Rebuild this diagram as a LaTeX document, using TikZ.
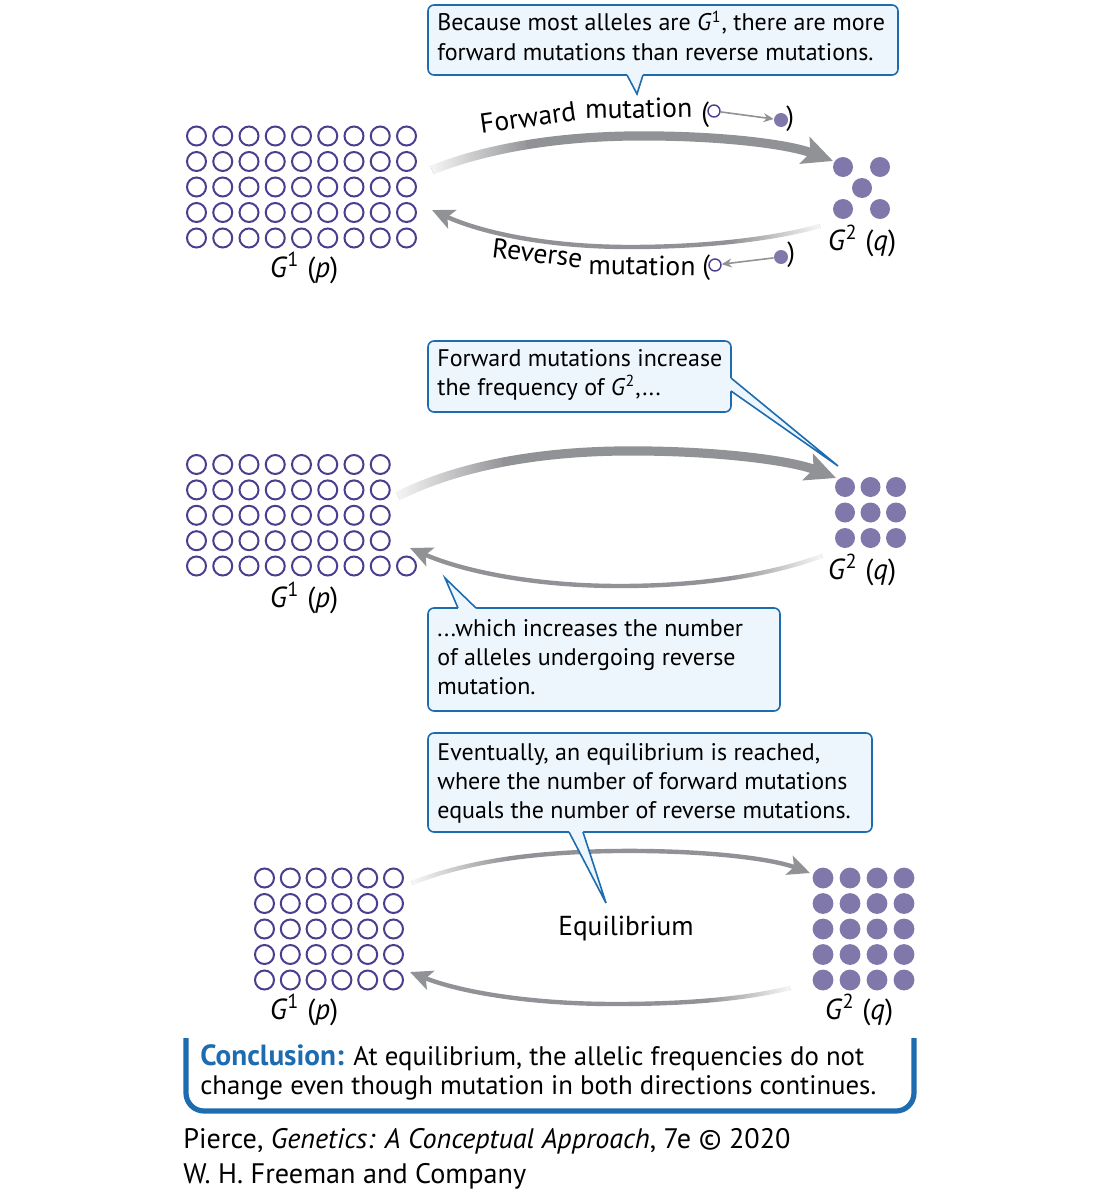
\documentclass[tikz,border=0pt]{standalone}
\usepackage{fontspec}
\setmainfont{PT Sans}
\usetikzlibrary{arrows.meta,fadings}
\definecolor{cpurple}{RGB}{74,62,143}
\definecolor{cdot}{RGB}{128,119,170}
\definecolor{cgray}{RGB}{145,146,149}
\definecolor{cblue}{RGB}{30,108,176}
\definecolor{cfill}{RGB}{238,246,253}
\tikzfading[name=fadeleftin, left color=transparent!5, right color=transparent!100]
\tikzfading[name=faderightin, left color=transparent!100, right color=transparent!5]
\begin{document}
\begin{tikzpicture}[x=0.5pt,y=-0.5pt,
  open/.style={draw=cpurple, line width=1pt},
  full/.style={fill=cdot},
  callout/.style={draw=cblue, fill=cfill, line width=0.8pt, rounded corners=3pt},
  ptr/.style={draw=cblue, line width=0.8pt},
  ctext/.style={anchor=base west, inner sep=0pt, font=\fontsize{12}{14.5}\selectfont},
  lbl/.style={anchor=base, inner sep=0pt, font=\fontsize{14.5}{17}\selectfont},
  mlbl/.style={anchor=base west, inner sep=0pt, font=\fontsize{13.8}{16}\selectfont},
  thickarrow/.style={draw=cgray, line width=4.6pt, -{Stealth[length=15pt,width=14pt,inset=3pt]}},
  thinarrow/.style={draw=cgray, line width=2.2pt, -{Stealth[length=11pt,width=10pt,inset=2.5pt]}},
  fadeL/.style={draw=white, line width=#1, path fading=fadeleftin},
  fadeR/.style={draw=white, line width=#1, path fading=faderightin},
  smallo/.style={circle, draw=cpurple, line width=0.7pt, minimum size=6pt, inner sep=0pt},
  smalld/.style={circle, fill=cdot, minimum size=7pt, inner sep=0pt},
  smallarrow/.style={draw=cgray, line width=0.8pt, -{Stealth[length=5pt,width=4.5pt]}}
]
\path[use as bounding box] (0,0) rectangle (1100,1194);

% ---------------- Panel 1 ----------------
\foreach \i in {0,...,8} \foreach \j in {0,...,4}
  \draw[open] ({196.5+26.25*\i},{136+25.5*\j}) circle[radius=4.75pt];
\foreach \p in {(843,167),(880,167),(862,188),(843,209),(880,209)}
  \fill[full] \p circle[radius=5pt];
\node[lbl] (g1a) at (304,277) {\textit{G}\textsuperscript{1} (\textit{p})};
\node[lbl] (g2a) at (862,250) {\textit{G}\textsuperscript{2} (\textit{q})};

\coordinate (f1s) at (432,170); \coordinate (f1m) at (630,136); \coordinate (f1e) at (833,161);
\draw[thickarrow] (f1s) .. controls (490,147) and (560,137) .. (f1m) .. controls (710,135) and (785,143) .. (f1e);
\draw[fadeL=5.4pt] (f1s) .. controls (461,158.5) and (493,150.25) .. (526.5,144.75);
\coordinate (r1s) at (820,226); \coordinate (r1m) at (630,247); \coordinate (r1e) at (432,210);
\draw[thinarrow] (r1s) .. controls (770,240) and (700,247) .. (r1m) .. controls (545,247) and (480,232) .. (r1e);
\draw[fadeR=3pt] (r1s) .. controls (795,233) and (765,238.25) .. (732.5,241.75);

\node[mlbl, rotate=8] (fw1) at (481,134) {Forward};
\node[mlbl, rotate=1] (fw2) at (585,119) {mutation};
\node[mlbl] (fw3) at (701,121) {(};
\node[smallo] (fo) at (714,111) {};
\node[smalld] (fd) at (781,120) {};
\draw[smallarrow] (fo) -- (fd);
\node[mlbl] (fw4) at (786,125) {)};

\node[mlbl, rotate=-7] (rv1) at (491,257) {Reverse};
\node[mlbl, rotate=-1] (rv2) at (588,274) {mutation};
\node[mlbl] (rv3) at (702,274) {(};
\node[smallo] (ro) at (715,265) {};
\node[smalld] (rd) at (781,257) {};
\draw[smallarrow] (rd) -- (ro);
\node[mlbl] (rv4) at (787,261) {)};

\draw[callout] (428,5) rectangle (898,75);
\fill[cfill] (627,73) -- (627,75) -- (637,94) -- (643,75) -- (643,73) -- cycle;
\draw[ptr] (627,75) -- (637,94) -- (643,75);
\node[ctext] (t1a) at (437,31) {Because most alleles are \textit{G}\textsuperscript{1}, there are more};
\node[ctext] (t1b) at (437,60) {forward mutations than reverse mutations.};

% ---------------- Panel 2 ----------------
\foreach \i in {0,...,7} \foreach \j in {0,...,3}
  \draw[open] ({196.5+26.25*\i},{464.5+25.4*\j}) circle[radius=4.75pt];
\foreach \i in {0,...,8}
  \draw[open] ({196.5+26.25*\i},566) circle[radius=4.75pt];
\foreach \i in {0,1,2} \foreach \j in {0,1,2}
  \fill[full] ({845+25.5*\i},{487+25.5*\j}) circle[radius=5pt];
\node[lbl] (g1b) at (304,607) {\textit{G}\textsuperscript{1} (\textit{p})};
\node[lbl] (g2b) at (862,579) {\textit{G}\textsuperscript{2} (\textit{q})};

\coordinate (f2s) at (398,496); \coordinate (f2m) at (620,451); \coordinate (f2e) at (836,478);
\draw[thickarrow] (f2s) .. controls (460,465) and (540,452) .. (f2m) .. controls (710,450) and (790,460) .. (f2e);
\draw[fadeL=5.4pt] (f2s) .. controls (429,480.5) and (464.5,469.5) .. (502.25,462.25);
\coordinate (r2s) at (822,556); \coordinate (r2m) at (620,586); \coordinate (r2e) at (410,548);
\draw[thinarrow] (r2s) .. controls (770,575) and (700,586) .. (r2m) .. controls (530,586) and (460,570) .. (r2e);
\draw[fadeR=3pt] (r2s) .. controls (796,565.5) and (765.5,573) .. (731.5,578.1);

\draw[callout] (428,341) rectangle (731,412);
\fill[cfill] (729,378) -- (731,378) -- (838,466) -- (731,391) -- (729,391) -- cycle;
\draw[ptr] (731,378) -- (838,466) -- (731,391);
\node[ctext] (t2a) at (437,366) {Forward mutations increase};
\node[ctext] (t2b) at (437,395) {the frequency of \textit{G}\textsuperscript{2},...};

\draw[callout] (428,608) rectangle (780,711);
\fill[cfill] (458,610) -- (458,608) -- (445,578) -- (476,608) -- (476,610) -- cycle;
\draw[ptr] (458,608) -- (445,578) -- (476,608);
\node[ctext] (t3a) at (437,636) {...which increases the number};
\node[ctext] (t3b) at (437,665) {of alleles undergoing reverse};
\node[ctext] (t3c) at (437,694) {mutation.};

% ---------------- Panel 3 ----------------
\foreach \i in {0,...,5} \foreach \j in {0,...,4}
  \draw[open] ({264.5+25.8*\i},{878+25.5*\j}) circle[radius=4.75pt];
\foreach \i in {0,...,3} \foreach \j in {0,...,4}
  \fill[full] ({823+27*\i},{878+25.5*\j}) circle[radius=5.2pt];
\node[lbl] (g1c) at (304,1019) {\textit{G}\textsuperscript{1} (\textit{p})};
\node[lbl] (g2c) at (859,1019) {\textit{G}\textsuperscript{2} (\textit{q})};

\coordinate (f3s) at (412,883); \coordinate (f3m) at (615,851); \coordinate (f3e) at (810,873);
\draw[thinarrow] (f3s) .. controls (470,860) and (540,852) .. (f3m) .. controls (700,850) and (770,858) .. (f3e);
\draw[fadeL=3pt] (f3s) .. controls (441,871.5) and (473,863.75) .. (507.1,858.75);
\coordinate (r3s) at (790,988); \coordinate (r3m) at (615,1004); \coordinate (r3e) at (410,972);
\draw[thinarrow] (r3s) .. controls (740,1000) and (680,1004) .. (r3m) .. controls (530,1004) and (460,992) .. (r3e);
\draw[fadeR=3pt] (r3s) .. controls (765,994) and (737.5,998) .. (708.1,1000.5);

\node[anchor=base, inner sep=0pt, font=\fontsize{13.7}{16}\selectfont] (eq) at (626,935) {Equilibrium};

\draw[callout] (428,733) rectangle (872,832);
\fill[cfill] (569,830) -- (569,832) -- (606,903) -- (583,832) -- (583,830) -- cycle;
\draw[ptr] (569,832) -- (606,903) -- (583,832);
\node[ctext] (t4a) at (437,760) {Eventually, an equilibrium is reached,};
\node[ctext] (t4b) at (437,789) {where the number of forward mutations};
\node[ctext] (t4c) at (437,818) {equals the number of reverse mutations.};

% ---------------- Conclusion ----------------
\draw[cblue, line width=2.6pt, rounded corners=9pt] (186,1038) -- (186,1111) -- (914,1111) -- (914,1038);
\node[anchor=base west, inner sep=0pt, font=\fontsize{13.4}{16}\selectfont] (c1) at (200,1065) {\textcolor{cblue}{\fontsize{14.6}{16}\selectfont\textbf{Conclusion:}} At equilibrium, the allelic frequencies do not};
\node[anchor=base west, inner sep=0pt, font=\fontsize{13.4}{16}\selectfont] (c2) at (200,1094) {change even though mutation in both directions continues.};

\node[anchor=base west, inner sep=0pt, font=\fontsize{14.1}{17}\selectfont] (cr1) at (183,1148) {Pierce, \textit{Genetics: A Conceptual Approach}, 7e © 2020};
\node[anchor=base west, inner sep=0pt, font=\fontsize{14.1}{17}\selectfont] (cr2) at (183,1183) {W. H. Freeman and Company};
\end{tikzpicture}
\end{document}
